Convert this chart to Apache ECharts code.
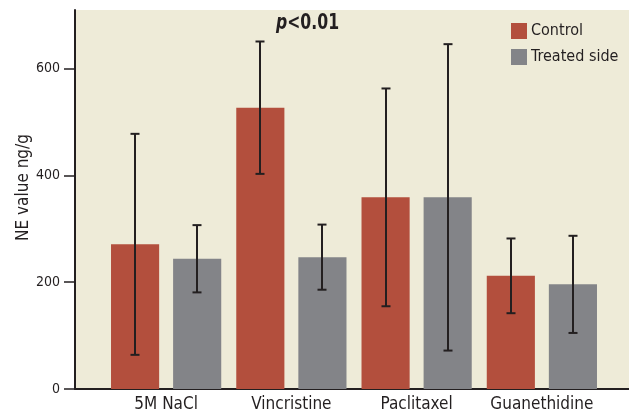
<!DOCTYPE html>
<html>
<head>
<meta charset="utf-8">
<script src="https://cdn.jsdelivr.net/npm/echarts@6/dist/echarts.min.js"></script>
<style>
  html, body { margin: 0; padding: 0; background: #fff; }
  #chart { width: 629px; height: 414px; }
</style>
</head>
<body>
<div id="chart"></div>
<script>
// data
var categories = ['5M NaCl', 'Vincristine', 'Paclitaxel', 'Guanethidine'];
var controlValues = [271, 527, 359, 212];
var controlSd = [207, 124, 204, 70];
var treatedValues = [244, 247, 359, 196];
var treatedSd = [63, 61, 287, 91];
var yTicks = [0, 200, 400, 600];

var FONT = '"Liberation Sans Narrow", "DejaVu Sans Condensed", "Liberation Sans", sans-serif';
var INK = '#231f20';
var RED = '#b34f3d';
var GREY = '#838488';
var YMAX = 710;

var BAR_GAP = 0.29;
var CAT_GAP = 0.12;

// error bar drawn from value +/- sd, shifted to the bar's center within the band
function errorSeries(name, values, sd, side) {
  var data = values.map(function (v, i) { return [i, v - sd[i], v + sd[i]]; });
  return {
    name: name + ' err',
    type: 'custom',
    xAxisIndex: 1,
    yAxisIndex: 1,
    silent: true,
    z: 5,
    data: data,
    renderItem: function (params, api) {
      var band = api.size([1, 0])[0];
      var barW = band * (1 - CAT_GAP) / (2 + BAR_GAP);
      var shift = side * barW * (1 + BAR_GAP) / 2;
      var lo = api.coord([api.value(0), api.value(1)]);
      var hi = api.coord([api.value(0), api.value(2)]);
      var x = Math.round(lo[0] + shift);
      var cap = 4.5;
      var st = { stroke: INK, lineWidth: 2 };
      return {
        type: 'group',
        children: [
          { type: 'line', shape: { x1: x, y1: hi[1], x2: x, y2: lo[1] }, style: st },
          { type: 'line', shape: { x1: x - cap, y1: hi[1], x2: x + cap, y2: hi[1] }, style: st },
          { type: 'line', shape: { x1: x - cap, y1: lo[1], x2: x + cap, y2: lo[1] }, style: st }
        ]
      };
    }
  };
}

var chart = echarts.init(document.getElementById('chart'));
chart.setOption({
  animation: false,
  backgroundColor: '#ffffff',
  textStyle: { fontFamily: FONT, color: INK },
  grid: [
    // frame with the beige panel and the visible axes
    { left: 75, right: 0, top: 10, bottom: 25, show: true, backgroundColor: '#eeebd8', borderWidth: 0 },
    // bars
    { left: 103.5, right: 24.5, top: 10, bottom: 25 }
  ],
  legend: {
    orient: 'vertical',
    left: 511,
    top: 23,
    padding: 0,
    itemWidth: 16,
    itemHeight: 16,
    itemGap: 10,
    icon: 'rect',
    data: ['Control', 'Treated side'],
    textStyle: { fontFamily: FONT, fontSize: 16, color: INK, padding: [0, 0, 0, -1] }
  },
  xAxis: [
    {
      type: 'value', gridIndex: 0, min: 0, max: 1,
      axisLine: { show: true, onZero: false, lineStyle: { color: INK, width: 2 } },
      axisTick: { show: false }, axisLabel: { show: false }, splitLine: { show: false }
    },
    {
      type: 'category', gridIndex: 1, data: categories,
      axisLine: { show: false }, axisTick: { show: false },
      axisLabel: { interval: 0, fontFamily: FONT, fontSize: 17, color: INK, margin: 7 }
    }
  ],
  yAxis: [
    {
      type: 'value', gridIndex: 0, min: 0, max: YMAX, interval: 200,
      name: 'NE value ng/g',
      nameLocation: 'middle',
      nameGap: 43,
      nameMoveOverlap: false,
      nameTextStyle: { fontFamily: FONT, fontSize: 17, color: INK, padding: [0, 0, 0, 24] },
      axisLine: { show: true, lineStyle: { color: INK, width: 2 } },
      axisTick: { show: true, length: 11, customValues: yTicks, lineStyle: { color: INK, width: 1.5 } },
      axisLabel: { customValues: yTicks, fontFamily: FONT, fontSize: 14, color: INK, margin: 15 },
      splitLine: { show: false }
    },
    {
      type: 'value', gridIndex: 1, min: 0, max: YMAX, show: false
    }
  ],
  graphic: [
    {
      type: 'text',
      x: 276,
      y: 13,
      scaleX: 0.83,
      style: {
        text: '{i|p}{b|<0.01}',
        rich: {
          i: { fontFamily: FONT, fontSize: 21, fontWeight: 'bold', fontStyle: 'italic', fill: INK },
          b: { fontFamily: FONT, fontSize: 21, fontWeight: 'bold', fill: INK }
        }
      }
    }
  ],
  series: [
    {
      name: 'Control', type: 'bar', xAxisIndex: 1, yAxisIndex: 1,
      data: controlValues, itemStyle: { color: RED },
      barGap: (BAR_GAP * 100) + '%', barCategoryGap: (CAT_GAP * 100) + '%'
    },
    {
      name: 'Treated side', type: 'bar', xAxisIndex: 1, yAxisIndex: 1,
      data: treatedValues, itemStyle: { color: GREY }
    },
    errorSeries('Control', controlValues, controlSd, -1),
    errorSeries('Treated side', treatedValues, treatedSd, 1)
  ]
});
</script>
</body>
</html>
